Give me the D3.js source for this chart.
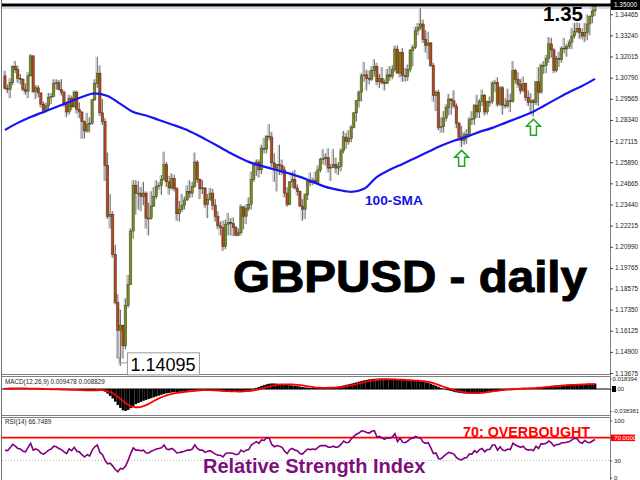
<!DOCTYPE html>
<html><head><meta charset="utf-8">
<script src="https://cdn.jsdelivr.net/npm/d3@7"></script>
<style>html,body{margin:0;padding:0;background:#fff;}svg{display:block;font-family:"Liberation Sans",Arial,sans-serif;}</style>
</head><body><svg id="c" width="640" height="480"></svg>
<script>
// ---- daily GBPUSD candles ----
const opens=[1.3090,1.3015,1.3010,1.3050,1.3145,1.3125,1.3075,1.3070,1.3010,1.3000,
1.3090,1.3205,1.3000,1.3020,1.2990,1.2925,1.2890,1.2915,1.2965,1.2970,
1.3045,1.3050,1.3010,1.2995,1.2925,1.2880,1.2960,1.2910,1.2995,1.2895,
1.2880,1.2825,1.2770,1.2810,1.2815,1.2950,1.3045,1.3105,1.2875,1.2825,
1.2570,1.2275,1.2285,1.2055,1.1775,1.1615,1.1645,1.1525,1.1760,1.1880,
1.2190,1.2455,1.2410,1.2410,1.2390,1.2410,1.2265,1.2265,1.2335,1.2390,
1.2450,1.2455,1.2490,1.2575,1.2475,1.2440,1.2495,1.2435,1.2290,1.2315,
1.2340,1.2370,1.2420,1.2410,1.2450,1.2590,1.2490,1.2435,1.2440,1.2345,
1.2375,1.2410,1.2340,1.2275,1.2220,1.2210,1.2100,1.2230,1.2240,1.2235,
1.2210,1.2165,1.2180,1.2330,1.2275,1.2320,1.2345,1.2490,1.2570,1.2590,
1.2545,1.2670,1.2665,1.2740,1.2735,1.2585,1.2545,1.2575,1.2570,1.2545,
1.2410,1.2345,1.2475,1.2490,1.2440,1.2420,1.2335,1.2315,1.2400,1.2480,
1.2470,1.2485,1.2470,1.2545,1.2605,1.2610,1.2615,1.2555,1.2560,1.2575,
1.2555,1.2565,1.2655,1.2735,1.2710,1.2725,1.2790,1.2875,1.2945,1.2995,
1.3090,1.3095,1.3075,1.3070,1.3120,1.3145,1.3055,1.3075,1.3050,1.3045,
1.3095,1.3085,1.3125,1.3245,1.3105,1.3225,1.3090,1.3085,1.3125,1.3235,
1.3255,1.3350,1.3370,1.3390,1.3300,1.3265,1.3280,1.3150,1.2975,1.2995,
1.2790,1.2795,1.2845,1.2905,1.2955,1.2945,1.2915,1.2815,1.2735,1.2715,
1.2750,1.2750,1.2835,1.2840,1.2920,1.2880,1.2940,1.2975,1.2880,1.2940,
1.2940,1.3045,1.3050,1.2925,1.3020,1.2920,1.2915,1.2945,1.2940,1.3120,
1.3070,1.3040,1.3005,1.3045,1.2965,1.2935,1.2945,1.2935,1.3055,1.2995,
1.3150,1.3150,1.3190,1.3275,1.3240,1.3120,1.3190,1.3185,1.3250,1.3245,
1.3260,1.3285,1.3320,1.3345,1.3365,1.3340,1.3320,1.3340,1.3390,1.3435,
1.3465];
const highs=[1.3120,1.3040,1.3075,1.3150,1.3175,1.3150,1.3100,1.3075,1.3045,1.3110,
1.3215,1.3210,1.3035,1.3035,1.2995,1.2940,1.2935,1.2990,1.2990,1.3070,
1.3070,1.3065,1.3070,1.3005,1.2940,1.2980,1.2975,1.3005,1.3005,1.2935,
1.2885,1.2830,1.2875,1.2850,1.2955,1.3070,1.3200,1.3150,1.2955,1.2845,
1.2645,1.2405,1.2305,1.2110,1.1825,1.1735,1.1645,1.1800,1.1935,1.2205,
1.2485,1.2485,1.2480,1.2445,1.2475,1.2420,1.2355,1.2420,1.2445,1.2485,
1.2475,1.2515,1.2650,1.2590,1.2510,1.2525,1.2515,1.2445,1.2365,1.2405,
1.2390,1.2455,1.2485,1.2475,1.2645,1.2600,1.2495,1.2485,1.2445,1.2405,
1.2440,1.2435,1.2375,1.2305,1.2245,1.2250,1.2255,1.2295,1.2265,1.2270,
1.2220,1.2205,1.2345,1.2335,1.2345,1.2385,1.2535,1.2580,1.2605,1.2605,
1.2690,1.2730,1.2745,1.2810,1.2765,1.2640,1.2580,1.2690,1.2605,1.2565,
1.2445,1.2480,1.2535,1.2545,1.2460,1.2425,1.2375,1.2410,1.2480,1.2530,
1.2500,1.2535,1.2570,1.2615,1.2665,1.2640,1.2670,1.2580,1.2665,1.2615,
1.2590,1.2670,1.2770,1.2760,1.2775,1.2805,1.2880,1.2950,1.3005,1.3105,
1.3170,1.3125,1.3120,1.3145,1.3185,1.3165,1.3100,1.3140,1.3070,1.3130,
1.3145,1.3150,1.3265,1.3265,1.3230,1.3250,1.3135,1.3155,1.3245,1.3270,
1.3375,1.3395,1.3482,1.3415,1.3355,1.3345,1.3285,1.3165,1.3005,1.3010,
1.2850,1.2885,1.2925,1.2985,1.2960,1.3005,1.2930,1.2825,1.2800,1.2765,
1.2780,1.2850,1.2885,1.2925,1.2980,1.2955,1.3010,1.2985,1.2945,1.2970,
1.3060,1.3065,1.3080,1.3030,1.3030,1.2960,1.3015,1.2985,1.3175,1.3130,
1.3110,1.3070,1.3085,1.3050,1.3005,1.2990,1.2955,1.3060,1.3140,1.3160,
1.3175,1.3210,1.3315,1.3310,1.3250,1.3205,1.3230,1.3260,1.3310,1.3275,
1.3300,1.3365,1.3395,1.3400,1.3395,1.3365,1.3395,1.3445,1.3440,1.3505,
1.3500];
const lows=[1.3010,1.2990,1.2960,1.3035,1.3105,1.3050,1.3040,1.3000,1.2980,1.2960,
1.3085,1.2990,1.2955,1.2965,1.2905,1.2870,1.2875,1.2890,1.2925,1.2965,
1.3010,1.3005,1.2975,1.2910,1.2850,1.2865,1.2890,1.2905,1.2870,1.2845,
1.2725,1.2725,1.2760,1.2760,1.2805,1.2945,1.3020,1.2855,1.2805,1.2480,
1.2260,1.2205,1.2035,1.1765,1.1450,1.1409,1.1450,1.1505,1.1745,1.1880,
1.2145,1.2285,1.2315,1.2305,1.2340,1.2205,1.2165,1.2255,1.2330,1.2375,
1.2430,1.2400,1.2480,1.2445,1.2400,1.2430,1.2420,1.2250,1.2245,1.2300,
1.2315,1.2365,1.2380,1.2385,1.2440,1.2470,1.2375,1.2405,1.2325,1.2265,
1.2365,1.2310,1.2245,1.2200,1.2165,1.2075,1.2085,1.2165,1.2165,1.2160,
1.2160,1.2160,1.2165,1.2200,1.2230,1.2305,1.2315,1.2475,1.2510,1.2500,
1.2520,1.2640,1.2640,1.2715,1.2560,1.2475,1.2420,1.2515,1.2515,1.2385,
1.2330,1.2340,1.2440,1.2430,1.2395,1.2330,1.2250,1.2260,1.2370,1.2450,
1.2455,1.2465,1.2465,1.2530,1.2575,1.2570,1.2530,1.2480,1.2555,1.2525,
1.2515,1.2535,1.2640,1.2665,1.2690,1.2705,1.2785,1.2825,1.2905,1.2940,
1.3055,1.3005,1.3040,1.3060,1.3085,1.3035,1.3020,1.3040,1.3005,1.3045,
1.3060,1.3070,1.3110,1.3105,1.3080,1.3055,1.3055,1.3060,1.3110,1.3145,
1.3245,1.3325,1.3355,1.3280,1.3225,1.3185,1.3140,1.2940,1.2885,1.2775,
1.2760,1.2760,1.2825,1.2860,1.2865,1.2900,1.2785,1.2715,1.2675,1.2690,
1.2695,1.2735,1.2805,1.2805,1.2845,1.2845,1.2915,1.2860,1.2865,1.2910,
1.2925,1.2995,1.2910,1.2915,1.2865,1.2900,1.2905,1.2880,1.2935,1.3045,
1.3020,1.2985,1.2995,1.2945,1.2915,1.2880,1.2855,1.2920,1.2915,1.2985,
1.3100,1.3105,1.3165,1.3195,1.3105,1.3110,1.3140,1.3165,1.3220,1.3200,
1.3245,1.3245,1.3305,1.3335,1.3305,1.3300,1.3285,1.3295,1.3325,1.3395,
1.3435];
const closes=[1.3015,1.3010,1.3050,1.3145,1.3125,1.3075,1.3070,1.3010,1.3000,1.3090,
1.3205,1.3000,1.3020,1.2990,1.2925,1.2890,1.2915,1.2965,1.2970,1.3045,
1.3050,1.3010,1.2995,1.2925,1.2880,1.2960,1.2910,1.2995,1.2895,1.2880,
1.2825,1.2770,1.2810,1.2815,1.2950,1.3045,1.3105,1.2875,1.2825,1.2570,
1.2275,1.2285,1.2055,1.1775,1.1615,1.1645,1.1525,1.1760,1.1880,1.2190,
1.2455,1.2410,1.2410,1.2390,1.2410,1.2265,1.2265,1.2335,1.2390,1.2450,
1.2455,1.2490,1.2575,1.2475,1.2440,1.2495,1.2435,1.2290,1.2315,1.2340,
1.2370,1.2420,1.2410,1.2450,1.2590,1.2490,1.2435,1.2440,1.2345,1.2375,
1.2410,1.2340,1.2275,1.2220,1.2210,1.2100,1.2230,1.2240,1.2235,1.2210,
1.2165,1.2180,1.2330,1.2275,1.2320,1.2345,1.2490,1.2570,1.2590,1.2545,
1.2670,1.2665,1.2740,1.2735,1.2585,1.2545,1.2575,1.2570,1.2545,1.2410,
1.2345,1.2475,1.2490,1.2440,1.2420,1.2335,1.2315,1.2400,1.2480,1.2470,
1.2485,1.2470,1.2545,1.2605,1.2610,1.2615,1.2555,1.2560,1.2575,1.2555,
1.2565,1.2655,1.2735,1.2710,1.2725,1.2790,1.2875,1.2945,1.2995,1.3090,
1.3095,1.3075,1.3070,1.3120,1.3145,1.3055,1.3075,1.3050,1.3045,1.3095,
1.3085,1.3125,1.3245,1.3105,1.3225,1.3090,1.3085,1.3125,1.3235,1.3255,
1.3350,1.3370,1.3390,1.3300,1.3265,1.3280,1.3150,1.2975,1.2995,1.2790,
1.2795,1.2845,1.2905,1.2955,1.2945,1.2915,1.2815,1.2735,1.2715,1.2750,
1.2750,1.2835,1.2840,1.2920,1.2880,1.2940,1.2975,1.2880,1.2940,1.2940,
1.3045,1.3050,1.2925,1.3020,1.2920,1.2915,1.2945,1.2940,1.3120,1.3070,
1.3040,1.3005,1.3045,1.2965,1.2935,1.2945,1.2935,1.3055,1.2995,1.3150,
1.3150,1.3190,1.3275,1.3240,1.3120,1.3190,1.3185,1.3250,1.3245,1.3260,
1.3285,1.3320,1.3345,1.3365,1.3340,1.3320,1.3340,1.3390,1.3435,1.3465,
1.3495];
// 100-SMA, read every 5th bar
const smaEvery5=[1.2776,1.2817,1.2851,1.2880,1.2909,1.2938,1.2967,1.2988,1.2973,1.2927,
1.2880,1.2860,1.2834,1.2808,1.2782,1.2747,1.2707,1.2666,1.2626,1.2591,
1.2568,1.2547,1.2527,1.2504,1.2475,1.2446,1.2429,1.2417,1.2435,1.2504,
1.2545,1.2579,1.2614,1.2649,1.2684,1.2713,1.2736,1.2765,1.2788,1.2817,
1.2846,1.2875,1.2915,1.2956,1.2996,1.3031,1.3072];
// MACD(12,26,9)
const macdMain=[0.0012,0.0011,0.0010,0.0011,0.0012,0.0011,0.0010,0.0008,0.0006,0.0005,
0.0006,0.0004,0.0002,0.0000,-0.0004,-0.0008,-0.0010,-0.0011,-0.0011,-0.0009,
-0.0008,-0.0009,-0.0011,-0.0014,-0.0018,-0.0018,-0.0019,-0.0018,-0.0020,-0.0022,
-0.0026,-0.0030,-0.0030,-0.0029,-0.0024,-0.0017,-0.0010,-0.0013,-0.0022,-0.0045,
-0.0080,-0.0120,-0.0165,-0.0220,-0.0280,-0.0330,-0.0372,-0.0384,-0.0365,-0.0335,
-0.0295,-0.0265,-0.0245,-0.0225,-0.0205,-0.0190,-0.0175,-0.0160,-0.0145,-0.0130,
-0.0115,-0.0100,-0.0085,-0.0075,-0.0068,-0.0060,-0.0055,-0.0052,-0.0048,-0.0043,
-0.0038,-0.0032,-0.0027,-0.0022,-0.0014,-0.0012,-0.0013,-0.0014,-0.0018,-0.0020,
-0.0021,-0.0024,-0.0029,-0.0034,-0.0038,-0.0044,-0.0045,-0.0045,-0.0044,-0.0044,
-0.0045,-0.0045,-0.0038,-0.0034,-0.0028,-0.0022,-0.0010,0.0005,0.0020,0.0035,
0.0055,0.0068,0.0082,0.0093,0.0098,0.0097,0.0094,0.0090,0.0085,0.0078,
0.0070,0.0066,0.0062,0.0057,0.0050,0.0042,0.0034,0.0028,0.0024,0.0020,
0.0018,0.0016,0.0017,0.0020,0.0023,0.0026,0.0027,0.0029,0.0033,0.0038,
0.0045,0.0053,0.0063,0.0073,0.0083,0.0093,0.0104,0.0116,0.0128,0.0140,
0.0151,0.0160,0.0168,0.0174,0.0178,0.0180,0.0183,0.0184,0.0184,0.0182,
0.0180,0.0177,0.0178,0.0174,0.0170,0.0166,0.0160,0.0156,0.0152,0.0148,
0.0144,0.0140,0.0136,0.0128,0.0118,0.0106,0.0092,0.0075,0.0058,0.0038,
0.0018,0.0002,-0.0012,-0.0024,-0.0036,-0.0048,-0.0058,-0.0066,-0.0073,-0.0078,
-0.0081,-0.0080,-0.0078,-0.0074,-0.0070,-0.0065,-0.0060,-0.0054,-0.0048,-0.0042,
-0.0036,-0.0030,-0.0026,-0.0021,-0.0018,-0.0015,-0.0011,-0.0007,-0.0001,0.0004,
0.0008,0.0010,0.0012,0.0013,0.0013,0.0014,0.0016,0.0020,0.0025,0.0031,
0.0038,0.0044,0.0050,0.0055,0.0059,0.0064,0.0067,0.0071,0.0074,0.0077,
0.0079,0.0081,0.0083,0.0085,0.0087,0.0087,0.0088,0.0090,0.0092,0.0093,
0.009478];
const macdSignal=[0.0008,0.0008,0.0009,0.0009,0.0010,0.0010,0.0010,0.0010,0.0009,0.0008,
0.0008,0.0007,0.0006,0.0005,0.0003,0.0001,-0.0001,-0.0003,-0.0005,-0.0006,
-0.0006,-0.0007,-0.0008,-0.0009,-0.0011,-0.0012,-0.0014,-0.0015,-0.0016,-0.0017,
-0.0019,-0.0021,-0.0023,-0.0024,-0.0024,-0.0023,-0.0021,-0.0019,-0.0020,-0.0025,
-0.0036,-0.0053,-0.0075,-0.0103,-0.0138,-0.0175,-0.0212,-0.0245,-0.0275,-0.0298,
-0.0312,-0.0318,-0.0318,-0.0312,-0.0300,-0.0282,-0.0260,-0.0235,-0.0210,-0.0185,
-0.0163,-0.0143,-0.0126,-0.0110,-0.0097,-0.0086,-0.0077,-0.0069,-0.0062,-0.0056,
-0.0050,-0.0045,-0.0040,-0.0035,-0.0030,-0.0026,-0.0022,-0.0020,-0.0019,-0.0019,
-0.0020,-0.0021,-0.0023,-0.0026,-0.0029,-0.0032,-0.0035,-0.0038,-0.0040,-0.0041,
-0.0042,-0.0043,-0.0043,-0.0041,-0.0038,-0.0035,-0.0030,-0.0023,-0.0014,-0.0004,
0.0008,0.0020,0.0032,0.0044,0.0055,0.0064,0.0071,0.0077,0.0081,0.0083,
0.0083,0.0082,0.0080,0.0077,0.0073,0.0068,0.0062,0.0055,0.0048,0.0041,
0.0034,0.0028,0.0024,0.0022,0.0021,0.0021,0.0022,0.0023,0.0025,0.0027,
0.0030,0.0034,0.0040,0.0047,0.0055,0.0064,0.0074,0.0085,0.0096,0.0107,
0.0118,0.0128,0.0137,0.0145,0.0152,0.0158,0.0163,0.0166,0.0168,0.0169,
0.0169,0.0168,0.0167,0.0166,0.0164,0.0162,0.0159,0.0156,0.0153,0.0150,
0.0147,0.0145,0.0143,0.0138,0.0132,0.0125,0.0115,0.0102,0.0088,0.0072,
0.0055,0.0040,0.0025,0.0010,-0.0005,-0.0018,-0.0030,-0.0040,-0.0048,-0.0055,
-0.0062,-0.0067,-0.0070,-0.0071,-0.0071,-0.0070,-0.0067,-0.0062,-0.0055,-0.0048,
-0.0042,-0.0036,-0.0030,-0.0025,-0.0020,-0.0016,-0.0012,-0.0008,-0.0004,0.0000,
0.0003,0.0006,0.0009,0.0011,0.0013,0.0015,0.0017,0.0019,0.0022,0.0025,
0.0029,0.0033,0.0037,0.0041,0.0045,0.0049,0.0053,0.0057,0.0061,0.0065,
0.0068,0.0071,0.0074,0.0076,0.0078,0.0080,0.0082,0.0084,0.0086,0.0087,
0.008829];
// RSI(14)
const rsiValues=[48,47,52,58,55,51,50,46,45,53,
60,48,50,48,43,41,44,48,50,55,
54,51,49,45,42,50,47,53,46,45,
40,36,40,38,48,54,57,44,40,30,
24,25,20,14,10,16,15,20,30,42,
52,48,48,47,48,43,43,46,48,50,
51,52,57,50,49,51,48,43,44,45,
46,48,48,50,57,51,48,48,44,46,
47,44,41,39,39,36,42,43,43,42,
40,41,48,45,48,49,57,60,63,60,
66,65,70,69,58,54,56,55,53,46,
42,49,51,48,47,42,41,46,50,49,
50,49,53,56,56,56,53,53,55,53,
54,58,64,61,62,68,72,76,78,82,
81,79,78,81,82,71,72,69,67,70,
69,71,77,63,69,62,61,64,68,69,
72,70,69,62,60,61,52,42,43,33,
33,37,41,44,43,41,35,32,31,34,
35,41,41,47,44,49,51,45,49,49,
57,57,48,54,48,47,50,49,60,57,
55,53,55,50,48,49,47,55,51,59,
59,60,64,61,55,58,58,61,61,62,
63,66,69,68,62,60,65,62,61,64,
66.7489];
// axis tick labels
const priceTickLabels=["1.34465","1.33240","1.32015","1.30790","1.29565","1.28340","1.27115","1.25890","1.24665","1.23440","1.22215","1.20990","1.19765","1.18575","1.17350","1.16125","1.14900","1.13675"];
const macdTickLabels=["0.018394","0.00","-0.038381"];
const rsiTickLabels=["100","70.0000","30","0"];
const lastPriceLabel="1.35000";
const swingLowLabel="1.14095";
const swingLowBar=45;
const smaTouchBars=[178,206];

const svg=d3.select("#c");
const FONT='"Liberation Sans",Arial,sans-serif';
const L=2,R=610;
const n=closes.length;
const x=d3.scaleLinear().domain([0,n-1]).range([5,595]);
const y=d3.scaleLinear().domain([1.13675,1.35]).range([373,5]);
const ym=d3.scaleLinear().domain([-0.038381,0.018394]).range([411,378.5]);
const yr=d3.scaleLinear().domain([0,100]).range([477.5,420.5]);

svg.append("rect").attr("width",640).attr("height",480).attr("fill","#fff");
const defs=svg.append("defs");
defs.append("clipPath").attr("id","cm").append("rect").attr("x",L).attr("y",0).attr("width",R-L).attr("height",374);
defs.append("clipPath").attr("id","cd").append("rect").attr("x",L).attr("y",376).attr("width",R-L).attr("height",39);
defs.append("clipPath").attr("id","cr").append("rect").attr("x",L).attr("y",417).attr("width",R-L).attr("height",63);

// panel frames
[[0,374],[376,415],[417,480]].forEach(([t,b])=>{
  svg.append("line").attr("x1",L).attr("x2",R).attr("y1",b+0.5).attr("y2",b+0.5).attr("stroke","#808080");
  if(t>0) svg.append("line").attr("x1",L).attr("x2",R).attr("y1",t+0.5).attr("y2",t+0.5).attr("stroke","#808080");
});
svg.append("line").attr("x1",L-0.5).attr("x2",L-0.5).attr("y1",0).attr("y2",480).attr("stroke","#707070");
svg.append("line").attr("x1",R+0.5).attr("x2",R+0.5).attr("y1",0).attr("y2",480).attr("stroke","#808080");

// candles
const bars=d3.range(n).map(i=>({i,o:opens[i],h:highs[i],l:lows[i],c:closes[i]}));
const gc=svg.append("g").attr("clip-path","url(#cm)");
gc.selectAll("line.sh").data(bars).join("line").attr("class","sh")
  .attr("x1",d=>x(d.i)-1.4).attr("x2",d=>x(d.i)-1.4)
  .attr("y1",d=>y(d.h)).attr("y2",d=>y(d.l)).attr("stroke","#cdcdcd").attr("stroke-width",1.2);
gc.selectAll("line.wk").data(bars).join("line").attr("class","wk")
  .attr("x1",d=>x(d.i)).attr("x2",d=>x(d.i))
  .attr("y1",d=>y(d.h)).attr("y2",d=>y(d.l)).attr("stroke","#5a5a5a").attr("stroke-width",0.9);
gc.selectAll("rect.bd").data(bars).join("rect").attr("class","bd")
  .attr("x",d=>x(d.i)-1.1).attr("width",2.2)
  .attr("y",d=>y(Math.max(d.o,d.c)))
  .attr("height",d=>Math.max(0.8,Math.abs(y(d.o)-y(d.c))))
  .attr("fill",d=>d.c>=d.o?"#7d8c20":"#b34b1f")
  .attr("stroke",d=>d.c>=d.o?"#3d4410":"#4e200b").attr("stroke-width",0.5);

// 100-SMA
const smaPts=smaEvery5.map((v,k)=>[k*5,v]);
gc.append("path").datum(smaPts)
  .attr("d",d3.line().x(d=>x(d[0])).y(d=>y(d[1])).curve(d3.curveMonotoneX))
  .attr("fill","none").attr("stroke","#1616f5").attr("stroke-width",2.2);

// top price lines
svg.append("line").attr("x1",L).attr("x2",R+1).attr("y1",y(1.35)).attr("y2",y(1.35)).attr("stroke","#000").attr("stroke-width",3);
svg.append("line").attr("x1",L).attr("x2",R).attr("y1",y(1.35)+3).attr("y2",y(1.35)+3).attr("stroke","#a9b1d6").attr("stroke-width",1.2);

// axis style helper
const axStyle=(fs,dx)=>g=>{g.select(".domain").remove();g.attr("font-family",FONT).attr("font-size",fs);
  g.selectAll("text").attr("fill","#222").attr("x",dx);g.selectAll("line").attr("stroke","#444");};

// price axis
svg.append("g").attr("transform",`translate(${R},0)`)
  .call(d3.axisRight(y).tickValues(priceTickLabels.map(Number)).tickFormat((d,i)=>priceTickLabels[i]).tickSize(3).tickSizeOuter(0))
  .call(axStyle(6.4,5));
svg.append("rect").attr("x",R+1).attr("y",0).attr("width",29).attr("height",10).attr("fill","#000");
svg.append("text").attr("x",R+4).attr("y",y(1.35)).attr("dy","0.35em").attr("font-size",6.4).attr("fill","#fff").text(lastPriceLabel);

// annotations main
svg.append("text").attr("x",583).attr("y",21).attr("text-anchor","end").attr("font-weight","bold").attr("font-size",20.5).attr("fill","#000").text("1.35");
svg.append("text").attr("x",233).attr("y",292).attr("font-weight","bold").attr("font-size",45).attr("textLength",354).attr("lengthAdjust","spacingAndGlyphs")
  .attr("fill","#000").attr("stroke","#000").attr("stroke-width",1).text("GBPUSD - daily");
svg.append("text").attr("x",365).attr("y",205).attr("font-weight","bold").attr("font-size",13.7).attr("fill","#1414e6").text("100-SMA");

// swing low label
const lx=x(swingLowBar), ly=y(lows[swingLowBar]);
svg.append("path").attr("d",`M${lx-1},${ly-9}V${ly-3}H${lx+7}`).attr("fill","none").attr("stroke","#9a9a9a").attr("stroke-width",1);
svg.append("rect").attr("x",lx+7).attr("y",ly-13).attr("width",72).attr("height",22).attr("fill","#fff").attr("stroke","#9a9a9a");
svg.append("text").attr("x",lx+10).attr("y",ly+5.5).attr("font-size",18).attr("fill","#000").text(swingLowLabel);

// arrows at SMA touches
smaTouchBars.forEach(b=>{
  const cx=x(b), t=y(lows[b])+3;
  svg.append("path").attr("d",`M${cx},${t}L${cx+7},${t+7}H${cx+3}V${t+16}H${cx-3}V${t+7}H${cx-7}Z`)
    .attr("fill","#fff").attr("stroke","#24a324").attr("stroke-width",1.5).attr("stroke-linejoin","miter");
});

// MACD panel
const gm=svg.append("g").attr("clip-path","url(#cd)");
gm.append("line").attr("x1",L).attr("x2",R).attr("y1",ym(0)).attr("y2",ym(0)).attr("stroke","#000").attr("stroke-width",1);
gm.selectAll("rect.h").data(macdMain.map((v,i)=>({i,v}))).join("rect").attr("class","h")
  .attr("x",d=>x(d.i)-1.3).attr("width",2.6)
  .attr("y",d=>ym(Math.max(0,d.v))).attr("height",d=>Math.abs(ym(d.v)-ym(0)))
  .attr("fill","#000");
gm.append("path").datum(macdSignal)
  .attr("d",d3.line().x((d,i)=>x(i)).y(d=>ym(d)))
  .attr("fill","none").attr("stroke","#ff0000").attr("stroke-width",1.8);
svg.append("text").attr("x",5).attr("y",384).attr("font-size",6.3).attr("fill","#222")
  .text(`MACD(12,26,9) ${macdMain[n-1].toFixed(6)} ${macdSignal[n-1].toFixed(6)}`);
svg.append("g").attr("transform",`translate(${R},0)`)
  .call(d3.axisRight(ym).tickValues(macdTickLabels.map(Number)).tickFormat((d,i)=>macdTickLabels[i]).tickSize(1.5).tickSizeOuter(0))
  .call(axStyle(5.9,2.5));
svg.append("rect").attr("x",R+2).attr("y",ym(0)-3).attr("width",4).attr("height",6).attr("fill","#000");

// RSI panel
const gr=svg.append("g").attr("clip-path","url(#cr)");
gr.append("line").attr("x1",L).attr("x2",R).attr("y1",yr(30)).attr("y2",yr(30)).attr("stroke","#b8b8b8").attr("stroke-dasharray","1,2");
gr.append("line").attr("x1",L).attr("x2",R).attr("y1",yr(70)).attr("y2",yr(70)).attr("stroke","#ff0000").attr("stroke-width",1.6);
gr.append("path").datum(rsiValues)
  .attr("d",d3.line().x((d,i)=>x(i)).y(d=>yr(d)))
  .attr("fill","none").attr("stroke","#800080").attr("stroke-width",1.6);
svg.append("text").attr("x",5).attr("y",424).attr("font-size",6.3).attr("fill","#222").text(`RSI(14) ${rsiValues[n-1].toFixed(4)}`);
svg.append("rect").attr("x",R+1).attr("y",yr(70)-3).attr("width",24).attr("height",6.5).attr("fill","#ff0000");
svg.append("g").attr("transform",`translate(${R},0)`)
  .call(d3.axisRight(yr).tickValues(rsiTickLabels.map(Number)).tickFormat((d,i)=>rsiTickLabels[i]).tickSize(2).tickSizeOuter(0))
  .call(axStyle(6.2,4))
  .call(g=>g.selectAll(".tick").filter(d=>d===70).select("text").attr("fill","#fff"));
svg.append("text").attr("x",463).attr("y",437).attr("font-weight","bold").attr("font-size",14.3).attr("fill","#ff0000").text("70: OVERBOUGHT");
svg.append("text").attr("x",203).attr("y",473).attr("font-weight","bold").attr("font-size",20).attr("fill","#7e0f7e").text("Relative Strength Index");
</script>
</body></html>
